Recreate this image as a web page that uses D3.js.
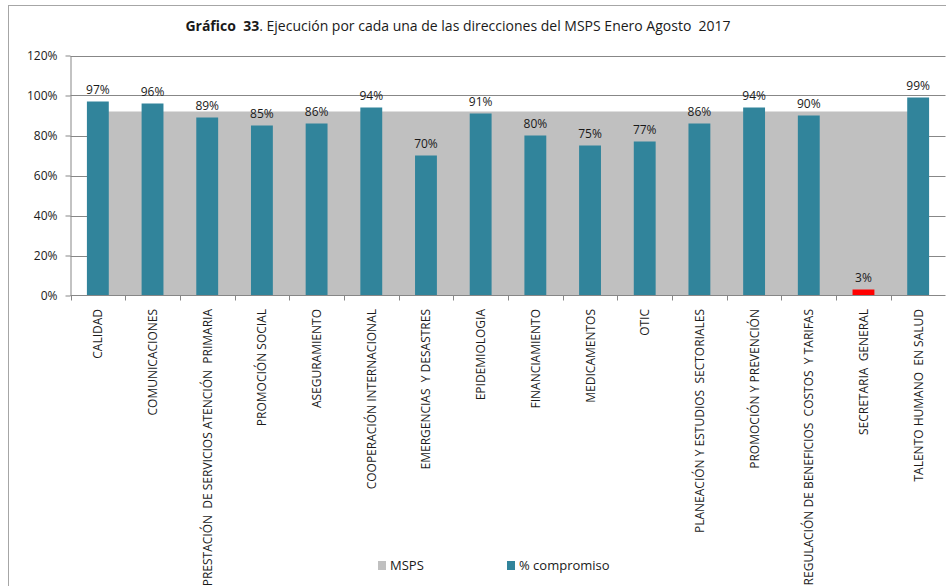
<html>
<head>
<meta charset="utf-8">
<title>Grafico 33</title>
<script src="https://cdnjs.cloudflare.com/ajax/libs/d3/7.8.5/d3.min.js"></script>
<style>
body { margin: 0; background: #fff; font-family: 'Open Sans', 'Noto Sans', sans-serif; }
svg { display: block; }
.lbl { fill: #1a1a1a; }
text { white-space: pre; }
</style>
</head>
<body>
<svg width="946" height="586"></svg>
<script>

// data
var categories = ["CALIDAD", "COMUNICACIONES", "PRESTACIÓN  DE SERVICIOS ATENCIÓN  PRIMARIA",
  "PROMOCIÓN SOCIAL", "ASEGURAMIENTO", "COOPERACIÓN INTERNACIONAL", "EMERGENCIAS  Y DESASTRES",
  "EPIDEMIOLOGIA", "FINANCIAMIENTO", "MEDICAMENTOS", "OTIC", "PLANEACIÓN Y ESTUDIOS  SECTORIALES",
  "PROMOCIÓN Y PREVENCIÓN", "REGULACIÓN DE BENEFICIOS  COSTOS  Y TARIFAS", "SECRETARIA  GENERAL",
  "TALENTO HUMANO  EN SALUD"];
var compromiso = [97, 96, 89, 85, 86, 94, 70, 91, 80, 75, 77, 86, 94, 90, 3, 99];
var msps = [92, 92, 92, 92, 92, 92, 92, 92, 92, 92, 92, 92, 92, 92, 92, 92];
var yTicks = [0, 20, 40, 60, 80, 100, 120];

var svg = d3.select("svg");
var teal = "#31849b", grey = "#c0c0c0", axisCol = "#878787";

// outer frame of the chart object
svg.append("rect").attr("x", 8.5).attr("y", 5.5).attr("width", 960).attr("height", 620)
  .attr("fill", "none").attr("stroke", "#a6a6a6");

// title
var title = svg.append("text").attr("x", 458).attr("y", 31).attr("text-anchor", "middle")
  .attr("class", "lbl").style("font-size", "14px");
title.append("tspan").style("font-weight", "bold").text("Gráfico  33");
title.append("tspan").text(". Ejecución por cada una de las direcciones del MSPS Enero Agosto  2017");

var x = d3.scaleBand().domain(categories).range([70.5, 945.5]).padding(0);
var y = d3.scaleLinear().domain([0, 120]).range([295.5, 55.5]);

// gridlines
svg.append("g").selectAll("line").data(yTicks.slice(1)).enter().append("line")
  .attr("x1", 70.5).attr("x2", 945.5)
  .attr("y1", function (d) { return Math.round(y(d)) + 0.5; })
  .attr("y2", function (d) { return Math.round(y(d)) + 0.5; })
  .attr("stroke", axisCol);

// MSPS area, center to center like excel
var area = d3.area()
  .x(function (d, i) { return x(categories[i]) + x.bandwidth() / 2; })
  .y0(y(0)).y1(function (d) { return y(d); });
svg.append("path").datum(msps).attr("d", area).attr("fill", grey);

// bars
var bw = x.bandwidth() * 0.4;
svg.append("g").selectAll("rect").data(compromiso).enter().append("rect")
  .attr("x", function (d, i) { return x(categories[i]) + (x.bandwidth() - bw) / 2; })
  .attr("width", bw)
  .attr("y", function (d) { return y(d); })
  .attr("height", function (d) { return y(0) - y(d); })
  .attr("fill", function (d, i) { return categories[i] == "SECRETARIA  GENERAL" ? "#ff0000" : teal; });

// value labels
svg.append("g").selectAll("text").data(compromiso).enter().append("text")
  .attr("class", "lbl").attr("text-anchor", "middle").style("font-size", "12px")
  .attr("x", function (d, i) { return x(categories[i]) + x.bandwidth() / 2; })
  .attr("y", function (d) { return y(d) - 8; })
  .text(function (d) { return d + "%"; });

// y axis
var yAxis = svg.append("g").attr("transform", "translate(70.5,0)")
  .call(d3.axisLeft(y).tickValues(yTicks).tickFormat(function (d) { return d + "%"; })
    .tickSize(5).tickSizeOuter(0));
yAxis.select(".domain").attr("stroke", axisCol);
yAxis.selectAll(".tick line").attr("stroke", axisCol);
yAxis.selectAll(".tick text").attr("class", "lbl").attr("x", -13)
  .style("font-size", "12px").style("font-family", "'Open Sans', sans-serif");

// x axis
svg.append("line").attr("x1", 70.5).attr("x2", 945.5).attr("y1", 295.5).attr("y2", 295.5)
  .attr("stroke", axisCol);
var edges = categories.map(function (c) { return x(c); }).concat([x.range()[1]]);
svg.append("g").selectAll("line").data(edges).enter().append("line")
  .attr("x1", function (d) { return Math.round(d) + 0.5; })
  .attr("x2", function (d) { return Math.round(d) + 0.5; })
  .attr("y1", 295.5).attr("y2", 300.5).attr("stroke", axisCol);

svg.append("g").selectAll("text").data(categories).enter().append("text")
  .attr("class", "lbl").attr("text-anchor", "end").style("font-size", "12px")
  .attr("transform", function (d) {
    return "translate(" + (x(d) + x.bandwidth() / 2 + 4.5) + ",309) rotate(-90)";
  })
  .text(function (d) { return d; });

// legend
var legendItems = [{ name: "MSPS", color: grey, x: 378 }, { name: "% compromiso", color: teal, x: 507 }];
var lg = svg.append("g").selectAll("g").data(legendItems).enter().append("g")
  .attr("transform", function (d) { return "translate(" + d.x + ",561)"; });
lg.append("rect").attr("width", 8).attr("height", 9).attr("fill", function (d) { return d.color; });
lg.append("text").attr("class", "lbl").attr("x", 12).attr("y", 9).style("font-size", "13px")
  .text(function (d) { return d.name; });

</script>
</body>
</html>
